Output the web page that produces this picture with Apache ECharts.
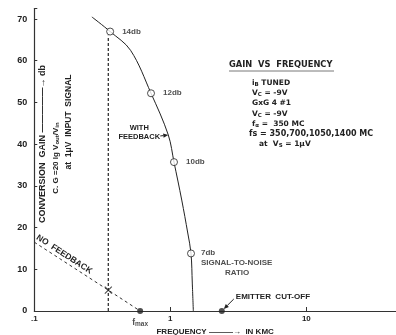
<!DOCTYPE html>
<html><head><meta charset="utf-8">
<script src="https://cdn.jsdelivr.net/npm/echarts@6/dist/echarts.min.js"></script>
<style>html,body{margin:0;padding:0;background:#fff}#c{width:396px;height:335px}</style>
</head><body><div id="c"></div>
<script>
// ---- data ----
const xTickValues = [0.1, 1, 10];
const xTickLabels = ['.1', '1', '10'];
const yTickValues = [0, 10, 20, 30, 40, 50, 60, 70];

// "with feedback" gain curve (freq in KMC, gain in db)
const withFbFreq = [0.265, 0.361, 0.51, 0.721, 0.966, 1.064, 1.213, 1.343, 1.419, 1.45, 1.476];
const withFbGain = [70.5, 67.0, 62.5, 52.2, 42.2, 35.7, 26.6, 18.7, 13.8, 6.7, 0];

// measured points with signal-to-noise ratio
const snrFreq = [0.361, 0.721, 1.064, 1.419];
const snrGain = [67.0, 52.2, 35.7, 13.8];
const snrLabels = ['14db', '12db', '10db', '7db'];

// "no feedback" line
const noFbFreq = [0.1, 0.35, 0.6];
const noFbGain = [16.5, 5, 0];

// f-alpha vertical dashed line
const fAlphaFreq = [0.35, 0.35];
const fAlphaGain = [0, 66];

const crossFreq = [0.35];
const crossGain = [5];
const fmaxFreq = [0.6];
const fmaxGain = [0];
const cutoffFreq = [2.39];
const cutoffGain = [0];

// ---- chart ----
const FONT = 'Liberation Sans';
const FONT2 = 'DejaVu Sans';
const INK = '#222';
const chart = echarts.init(document.getElementById('c'), null, {renderer: 'canvas'});
const pairs = (xs, ys) => xs.map((x, i) => [x, ys[i]]);

const option = {
  backgroundColor: '#fff',
  animation: false,
  grid: {left: 34.3, right: 0, top: 8.6, bottom: 24, outerBoundsMode: 'none'},
  xAxis: {
    type: 'log', logBase: 10, min: 0.1, max: 45.6,
    name: 'FREQUENCY ———→  IN KMC', nameLocation: 'middle', nameGap: 12,
    nameTextStyle: {fontFamily: FONT, fontSize: 8, fontWeight: 'bold', color: INK},
    axisLine: {lineStyle: {color: '#333', width: 1.2}},
    axisTick: {inside: true, length: 4, lineStyle: {color: '#333'}},
    splitLine: {show: false},
    axisLabel: {
      margin: 4, fontFamily: FONT, fontSize: 8, fontWeight: 'bold', color: INK,
      showMinLabel: true, showMaxLabel: true,
      formatter: v => { const i = xTickValues.findIndex(t => Math.abs(t - v) / t < 1e-6); return i >= 0 ? xTickLabels[i] : ''; }
    }
  },
  yAxis: {
    type: 'value', min: 0, max: 72.5, interval: 10,
    axisLine: {show: true, lineStyle: {color: '#333', width: 1.2}},
    axisTick: {show: true, inside: true, length: 3, lineStyle: {color: '#333'}},
    splitLine: {show: false},
    axisLabel: {
      margin: 7, fontFamily: FONT, fontSize: 9, fontWeight: 'bold', color: INK,
      formatter: v => yTickValues.includes(v) ? String(v) : ''
    }
  },
  series: [
    {type: 'line', data: pairs(withFbFreq, withFbGain), smooth: 0.35, showSymbol: false,
     lineStyle: {color: INK, width: 1}, z: 2},
    {type: 'line', data: pairs(noFbFreq, noFbGain), showSymbol: false,
     lineStyle: {color: '#333', width: 1, type: [3, 3]}, z: 2},
    {type: 'line', data: pairs(fAlphaFreq, fAlphaGain), showSymbol: false,
     lineStyle: {color: '#333', width: 1.3, type: [3, 2]}, z: 2},
    {type: 'scatter', data: pairs(crossFreq, crossGain), symbol: 'path://M0,0L10,10M10,0L0,10', symbolSize: 7,
     itemStyle: {color: 'none', borderColor: INK, borderWidth: 1.1}, z: 3},
    {type: 'scatter', data: pairs(fmaxFreq, fmaxGain), symbol: 'circle', symbolSize: 6,
     itemStyle: {color: INK}, z: 4,
     label: {show: true, position: 'bottom', distance: 4, formatter: '{a|f}{b|max}',
       rich: {a: {fontFamily: FONT, fontSize: 8.5, fontWeight: 'bold', color: INK},
              b: {fontFamily: FONT, fontSize: 6.5, fontWeight: 'bold', color: INK, padding: [3, 0, 0, 0]}}}},
    {type: 'scatter', data: pairs(cutoffFreq, cutoffGain), symbol: 'circle', symbolSize: 6,
     itemStyle: {color: INK}, z: 4},
    {type: 'scatter', data: snrFreq.map((f, i) => ({
        value: [f, snrGain[i]],
        label: i < 3 ? {show: true, position: 'right', distance: 8, formatter: snrLabels[i]} :
          {show: true, position: [14, -2], align: 'left', verticalAlign: 'top',
           formatter: '{a|' + snrLabels[i] + '}\n{b|SIGNAL-TO-NOISE}\n{c|RATIO}',
           rich: {a: {fontFamily: FONT, fontSize: 8, fontWeight: 'bold', color: INK, lineHeight: 10},
                  b: {fontFamily: FONT, fontSize: 8, fontWeight: 'bold', color: INK, lineHeight: 10},
                  c: {fontFamily: FONT, fontSize: 8, fontWeight: 'bold', color: INK, lineHeight: 10, padding: [0, 0, 0, 24]}}}
      })),
     symbol: 'circle', symbolSize: 7,
     itemStyle: {color: '#fff', borderColor: INK, borderWidth: 1}, z: 5,
     label: {fontFamily: FONT, fontSize: 8, fontWeight: 'bold', color: INK}}
  ]
};
chart.setOption(option);

// ---- annotations (anchored to data points via the grid's scales) ----
const px = (f, g) => chart.convertToPixel({gridIndex: 0}, [f, g]);
const txt = (o) => Object.assign({type: 'text', silent: true}, o);
const tStyle = (s) => Object.assign({fontFamily: FONT, fontWeight: 'bold', fill: INK, fontSize: 8}, s);
const arrow = (x1, y1, x2, y2) => {
  const a = Math.atan2(y2 - y1, x2 - x1), L = 5, W = 2.2;
  const bx = x2 - L * Math.cos(a), by = y2 - L * Math.sin(a);
  return [
    {type: 'line', silent: true, shape: {x1, y1, x2: bx, y2: by}, style: {stroke: INK, lineWidth: 1}},
    {type: 'polygon', silent: true, shape: {points: [[x2, y2],
      [bx + W * Math.sin(a), by - W * Math.cos(a)], [bx - W * Math.sin(a), by + W * Math.cos(a)]]},
      style: {fill: INK}}
  ];
};

const els = [];
// title block
els.push(txt({x: 229, y: 65, style: {text: 'GAIN  VS  FREQUENCY', fontFamily: FONT2, fontWeight: 'bold', fill: INK, fontSize: 8.3, textVerticalAlign: 'middle'}}));
els.push({type: 'line', silent: true, shape: {x1: 229, y1: 71, x2: 334, y2: 71}, style: {stroke: '#555', lineWidth: 0.8}});
const nStyle = {fontFamily: FONT2, fontWeight: 'bold', fill: INK, fontSize: 7.5};
const sStyle = {fontFamily: FONT2, fontWeight: 'bold', fill: INK, fontSize: 5.5, padding: [3, 0, 0, 0]};
const blockLines = [
  {x: 252, t: '{n|i}{s|B}{n| TUNED}'},
  {x: 252, t: '{n|V}{s|C}{n| = -9V}'},
  {x: 252, t: '{n|GxG 4 #1}'},
  {x: 252, t: '{n|V}{s|C}{n| = -9V}'},
  {x: 252, t: '{n|f}{s|α}{n| =  350 MC}'},
  {x: 249, t: '{w|fs = 350,700,1050,1400 MC}'},
  {x: 259, t: '{n|at  V}{s|S}{n| = 1μV}'}
];
const wStyle = Object.assign({}, nStyle, {fontSize: 8});
blockLines.forEach((l, i) => {
  els.push(txt({x: l.x, y: 83 + i * 10.2, style: Object.assign({}, nStyle, {text: l.t, textVerticalAlign: 'middle',
    rich: {n: nStyle, s: sStyle, w: wStyle}})}));
});
// vertical y-axis texts
els.push(txt({x: 43, y: 144, rotation: Math.PI / 2, style: tStyle({text: 'CONVERSION  GAIN —————→ db', fontSize: 9, textAlign: 'center', textVerticalAlign: 'middle'})}));
const vn = {fontFamily: FONT, fontWeight: 'bold', fill: INK, fontSize: 8};
const vs = {fontFamily: FONT, fontWeight: 'bold', fill: INK, fontSize: 6, padding: [3, 0, 0, 0]};
els.push(txt({x: 56, y: 158, rotation: Math.PI / 2, style: Object.assign({}, vn, {text: '{n|C. G =20 lg V}{s|out}{n|/V}{s|in}', textAlign: 'center', textVerticalAlign: 'middle',
  rich: {n: vn, s: vs}})}));
els.push(txt({x: 69, y: 122, rotation: Math.PI / 2, style: tStyle({text: 'at  1μV  INPUT  SIGNAL', fontSize: 8.5, textAlign: 'center', textVerticalAlign: 'middle'})}));

// WITH FEEDBACK arrow to the curve
const tip = px(withFbFreq[4], withFbGain[4]);
els.push(txt({x: tip[0] - 29, y: tip[1] - 3, style: tStyle({text: 'WITH\nFEEDBACK', fontSize: 7.5, textAlign: 'center', textVerticalAlign: 'middle', lineHeight: 9})}));
els.push(...arrow(tip[0] - 8, tip[1] + 1, tip[0], tip[1]));

// NO FEEDBACK along the dashed line
const p0 = px(noFbFreq[0], noFbGain[0]), p1 = px(noFbFreq[1], noFbGain[1]);
const ang = Math.atan2(p1[1] - p0[1], p1[0] - p0[0]);
const cx = p0[0] + 0.36 * (p1[0] - p0[0]) + 6 * Math.sin(ang);
const cy = p0[1] + 0.36 * (p1[1] - p0[1]) - 6 * Math.cos(ang);
els.push(txt({x: cx, y: cy, rotation: -ang, style: tStyle({text: 'NO  FEEDBACK', fontSize: 8.5, textAlign: 'center', textVerticalAlign: 'middle'})}));

// EMITTER CUT-OFF arrow
const ec = px(cutoffFreq[0], cutoffGain[0]);
els.push(txt({x: ec[0] + 14, y: ec[1] - 14, style: tStyle({text: 'EMITTER  CUT-OFF', fontSize: 8, textVerticalAlign: 'middle'})}));
els.push(...arrow(ec[0] + 12, ec[1] - 12, ec[0] + 2, ec[1] - 2));

chart.setOption({graphic: {elements: els}});
</script>
</body></html>
